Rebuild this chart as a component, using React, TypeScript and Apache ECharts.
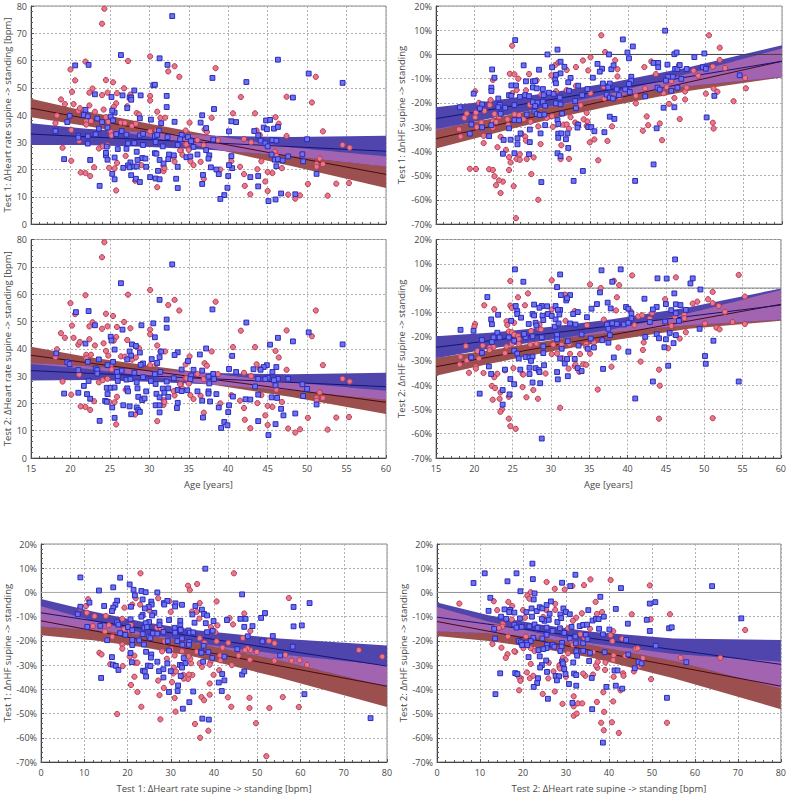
import React, { useEffect, useRef } from "react";
import * as echarts from "echarts";

// Red circles: age vs heart rate change (test 1 and test 2 panels show the same cloud)
const redAgeHr = [[24.3,79],[24,73.5],[30.1,61.5],[20,56.7],[21.9,59.6],[20.6,52.7],[24.5,52.8],[25.4,52],[27.3,59.8],[20.2,48.5],[18.8,45.7],[19.3,44],[20.4,44],[22.4,48.2],[22.8,49.7],[24.7,48.2],[25.9,48],[26.8,49.8],[24,47.3],[27.6,47.5],[30.1,47],[30.1,45.3],[32.4,56],[33.2,57.9],[33.8,54],[38.4,57.2],[41.6,46.6],[51.1,54],[50.6,44.6],[47.4,46.7],[43.4,40.6],[40.6,40.6],[37.9,39],[35.1,37.2],[31,41.2],[31.4,39],[32,39],[46.4,36.8],[46,39.2],[52,34],[47.4,32.3],[54.5,29],[55.4,28],[51.6,24],[52,22],[51.2,22],[51.2,21],[50.1,14.7],[53.7,14.8],[55.3,15],[52.6,10.4],[49.1,10.5],[48.5,9.3],[47.6,10.8],[46.8,20.5],[45.6,18.7],[45,19.1],[44.7,15.6],[45,12.1],[44.2,23],[43.7,20.1],[42.8,10.9],[42.1,14],[42,18.3],[41.5,21],[40.4,23],[39,20],[36.9,16.6],[36.5,22.8],[35.6,21.6],[35.2,23],[35,27.2],[34.6,29.2],[34,27],[34.2,25.4],[33.2,22.9],[33.1,24.5],[31.8,19.4],[31.8,21.2],[31,13.5],[29,21.6],[28.2,15.9],[27,25],[25.8,12.3],[25.9,22.4],[25.6,20.4],[24.9,20.6],[23,20.8],[22.5,17.6],[21.9,18.7],[21.3,18.9],[21.1,30.5],[20.1,23.2],[19,28],[23.6,27.7],[24.1,28.5],[24.7,29],[20.1,34.5],[18.1,37],[18.3,39.8],[21,41.5],[21.2,42.5],[22.4,43.5],[22,37.8],[22,36.5],[22.6,37.8],[23.1,41.2],[24.2,42],[24.5,39.2],[25.8,44.3],[25.5,43],[24.8,37.5],[25.1,33.9],[25.2,32.5],[26.4,37.2],[26.9,37.1],[27.2,43.2],[28.4,40.7],[28.7,40.2],[27.8,36],[28.3,36.8],[30.1,34],[30.9,34.4],[34.6,34.3],[37,34.7],[37.3,33.8],[42,31.2],[36.9,28.9],[38.7,30.7],[36.1,30.8],[34.7,29.2],[33.9,27],[31.9,20.5],[42.9,30],[43.6,34.3],[44,32.7],[45.9,26.5],[46.1,25]];
const blueAgeHr1 = [[32.9,76.3],[26.4,62],[31.3,60.8],[32.3,58.4],[20.6,58.2],[22.3,58.4],[38,53.6],[42.3,52.1],[46.3,60.3],[50.2,55.2],[54.5,51.8],[30.5,50.9],[30.7,51.1],[28.1,49],[23.1,47.6],[25.2,46.6],[26.6,47.2],[27.5,46.4],[27.7,46.4],[27.7,45.6],[28.9,47.2],[32.2,47],[32.2,42.9],[48.2,46.4],[38.2,42.2],[27.2,42.5],[21.9,41.9],[25.6,40.9],[25.3,41.6],[19.9,39.7],[21.7,40],[22.2,39.5],[23.4,38.7],[25.1,39.4],[25.4,38],[24,37.4],[28.8,38.8],[30.2,38.3],[31.5,37],[33.2,37.5],[36.7,39.9],[36.5,37.2],[40.4,37.7],[41,37.4],[44.8,38],[45.3,38.2],[18.1,34.1],[19.6,37.4],[23.6,35],[24.7,35.4],[26.5,34.1],[31.2,34.3],[37.2,35.2],[40.1,34],[44.5,35.4],[44.9,34.8],[45.8,35],[46.3,35.6],[43.3,34.1],[23.2,32.9],[21,32.4],[21,31.7],[22.2,32.2],[25.8,33],[27.1,32.8],[28.8,32.5],[29.2,33.1],[30.7,32.3],[31,32.7],[32.3,31.9],[34.1,32.7],[34.9,31.9],[33.9,31.1],[30.8,30.1],[35.3,30.4],[38.1,31],[43.8,32.5],[44.1,30.6],[45.6,30.8],[46.1,30.6],[50,31.1],[22.2,29.5],[27.3,29.6],[28.1,29.7],[29.2,29],[33.6,29],[35.6,28.3],[24.6,28.4],[44.7,29.6],[45,28.5],[37.2,27.1],[26,27.5],[27.1,27.6],[28.4,26.5],[31.7,28.5],[30.7,26],[30.9,25.8],[32.5,25.5],[33.1,25.2],[34.7,24.5],[35.2,24.8],[36.1,25.5],[37.6,25.2],[37.5,24],[40.4,24.9],[45.5,25.5],[47.6,24.8],[49.4,25.6],[24.5,25.2],[24.5,26.1],[24.7,23.6],[22.5,23.5],[19.2,23.8],[25.6,24.4],[29.1,24.2],[29.5,24],[28.5,23.5],[31.3,23.5],[31.8,22.2],[32.4,23.8],[45.9,23.6],[46.3,23.8],[46.9,23.3],[49.5,23],[27.6,22.6],[27.3,21.5],[27.5,20.8],[28.1,21.1],[28.4,21.1],[26.7,20.6],[29.6,21],[33.6,21],[37.8,20.8],[38.5,20],[38.8,18.3],[40.5,20.5],[40.1,21.6],[46.1,21.2],[31.1,19.5],[25.3,18.4],[27.7,17.9],[36.8,18],[40,17.6],[42.8,17.2],[43.8,17.6],[30.1,17.2],[30.8,16.7],[31.3,16.4],[25.6,16.4],[28.3,16.6],[28.8,15.4],[33.4,16.6],[51.2,18.4],[23.7,14],[36.7,14.7],[43.8,13.8],[33.6,13.2],[39.9,13.3],[39.5,10.6],[39,9.2],[46.7,11.2],[48.5,10.9],[46,9],[45.1,8.4]];
const blueAgeHr2 = [[32.9,70.9],[26.4,64],[31.3,57.9],[20.7,53.4],[22.3,53.8],[38,54.4],[32.2,50.7],[42.3,49.6],[30.5,49.3],[23.1,48.6],[29,48.6],[32.2,47.7],[26.6,47],[25.1,44.4],[25.2,43],[30.7,44.2],[50.2,46],[46.3,44],[54.5,41.6],[48.2,42.7],[45.3,41.5],[21.9,41.9],[27.8,41.6],[28.3,41],[25.6,39.7],[37.2,40.1],[27.5,39],[28.8,38.6],[18.2,38.3],[33.6,38.7],[31.5,39],[33.2,37.7],[36.4,37.9],[40.5,37.4],[31.3,36.9],[30.3,36.2],[27.7,37.5],[23.6,36.1],[27.2,36.1],[25.4,35.2],[22.2,35.2],[19.6,35],[19.9,34.4],[31,34.8],[29.2,34.6],[28.9,34.1],[34.9,35.5],[24.7,34],[44.9,34],[46.1,33.3],[44.5,33.3],[21,32.2],[23.2,32.8],[23.4,32.2],[26.5,32],[34.1,32.4],[35.6,32.3],[36.7,32],[40.1,32.6],[43.2,32.5],[44.1,32.3],[45.6,31.5],[41,31.5],[31.4,31.5],[28.1,31.2],[25.9,31.5],[30.7,30.7],[38.1,30.8],[23.4,30.9],[37.5,29.8],[35.3,30.2],[29.2,29.6],[26,29.8],[33.1,29.2],[45,29.4],[44.7,28.9],[43.8,29],[46.3,29],[47.6,29],[45.8,28.5],[38.2,28.9],[35.2,28.9],[30.2,28.2],[32.2,28],[26,28.2],[27.1,28.7],[27.6,28.9],[28.4,27.7],[22.3,28.2],[37.6,27.3],[30.8,27.1],[49.4,27],[46,26.6],[21.7,26.4],[43.4,26.2],[24.6,25.7],[25.1,25.7],[25.6,25.8],[27.2,25.5],[28.5,25.5],[31.7,25.4],[32.4,25.5],[50,25.3],[27.3,24.4],[29.6,24.4],[33.6,24.9],[34.1,24.5],[34.8,24.8],[36.1,24.4],[37.5,24.4],[37.5,23.6],[21,23.9],[19.2,23.6],[22.1,23.4],[24.7,23.4],[30.9,23.5],[31.9,23.9],[38.5,23.4],[43.8,23.2],[49.5,22.7],[40.6,22.5],[28.6,22.4],[31.3,22.2],[32.4,22.4],[29.1,21.2],[29.4,21.8],[22.5,21.7],[24.4,20.9],[24.6,20.6],[33.6,20.2],[36.7,21],[37.7,20.7],[42.2,21.5],[42.8,21.4],[45.5,22.2],[46.2,22],[26.7,19.3],[27.5,18.9],[30.8,19.3],[31.3,19.3],[40.1,19.3],[51.2,19.6],[25.3,18.5],[28.4,18.5],[28.6,17.5],[28.8,16.9],[33.5,18.3],[38.8,18.5],[46.7,18],[31.3,16.7],[27.7,16],[40,16.8],[48.5,16.3],[47,15.6],[25.6,14.7],[36.8,14.8],[23.7,13.6],[43.8,13.5],[39.5,13.2],[39.9,12],[46,12.4],[39.1,11],[45.1,8.4]];
const redAgeHf1 = [[25.4,-67.6],[28.3,-60],[23.4,-57.2],[22.8,-54],[25.1,-54.4],[23.7,-52.5],[23.2,-52],[22.6,-50.3],[27.4,-49.4],[19.4,-47.2],[20.2,-47.3],[21.9,-47.4],[22.4,-47.7],[24.5,-47.7],[24.7,-44.6],[24.5,-42.4],[24.1,-39.4],[25.5,-43.2],[25.9,-43.5],[25.9,-41.2],[26.8,-43.2],[27.7,-42.5],[31.2,-43.2],[32.3,-43.1],[36.1,-43.7],[23,-38.3],[28.6,-37],[31.3,-37.5],[21.2,-36.6],[21.2,-33.6],[23.4,-34],[18.2,-33.9],[18,-30.9],[18.7,-26.2],[19,-24.4],[20.1,-25.9],[20.3,-30],[20.2,-24],[20.6,-20],[20.1,-15.2],[21.3,-23.3],[20.9,-28.1],[22,-20.9],[22.1,-18.8],[22.4,-27.6],[22.8,-27.9],[22.6,-24.6],[22.4,-30.3],[23.2,-25.7],[24.3,-26.8],[24.4,-29.1],[24.6,-8],[25.2,-8.2],[24.9,3.6],[22.4,-10.5],[25.7,-10],[25.5,-14.7],[24.9,-16],[27.1,-8.1],[28.1,-10.7],[26.7,-14.8],[27.2,-20.8],[28.7,-16.6],[25.8,-25],[25.2,-24.7],[26.6,-33.9],[26.7,-35.6],[26.1,-32.8],[28.3,-29.7],[27.3,-27.8],[26.4,-26.7],[29.4,-26.2],[30.1,-25.5],[30.2,-29.9],[30,-8.6],[30.5,-4.4],[30.9,-3.4],[30.6,-15.2],[32,-6.4],[32,-14.7],[33.2,-5.2],[34.1,-2.5],[34.8,-6.6],[33.2,-13],[35.1,-1.2],[36.5,7.9],[37,1],[38.3,-2.4],[38.6,-6.1],[38.6,-9.1],[35.1,-16],[36.8,-13.3],[36.9,-18.2],[33.8,-21],[32.5,-25.9],[34.2,-26.8],[34.7,-27.7],[34.6,-24.1],[34.6,-29.5],[31.6,-29],[32,-28.9],[32.3,-30.7],[33.1,-28.1],[33.4,-28.7],[35.6,-35.1],[35,-36.3],[37.3,-35.7],[37.9,-29.7],[38.9,-17.7],[41,-20.2],[41,-17.1],[42.1,-5.2],[43,-2.9],[43.6,-8.1],[42.2,-14],[42.4,-25.6],[42.6,-29.2],[41.9,-31.5],[44.1,-28.5],[44.4,-35.4],[44.6,-16],[45,-13.5],[45.3,-20.4],[46,-18],[46.7,-26.7],[47.4,-18.6],[47.4,-15.3],[47.6,-13.7],[48.5,-6.7],[49.1,-8.8],[51,-5],[51.9,-2.3],[52.6,-5.6],[55.2,-9.7],[55.3,-14],[50.5,7.9],[51.9,2.8],[50.1,-16.2],[51.1,-14.1],[51.6,-15.4],[53.7,-19.3],[51,-28.2],[51.1,-30.6],[46.6,-4.4],[45.6,-11]];
const blueAgeHf1 = [[44.8,9.8],[39.3,6.2],[25.3,5.9],[40.6,3.3],[30.8,2],[29.5,0],[37.5,0],[39.9,0.8],[40.1,-1.6],[46,0.1],[46.3,0.8],[49.9,0.4],[48.6,-1.1],[49.7,-5.3],[50.1,-5.9],[22.3,-6.2],[22.6,-9.6],[26.4,-4.5],[28.4,-6.3],[30.1,-5.3],[31.2,-3],[31.7,-5.1],[31.2,-7.8],[30.6,-8.4],[36,-3.9],[36.6,-5.9],[36.3,-7.1],[37.8,-6.1],[38.1,-4.5],[43.3,-3.5],[43.9,-3.5],[43.9,-5.3],[45.1,-4.2],[46.1,-6],[46.4,-6],[46.7,-4.4],[47.6,-6],[40.4,-9.2],[40.4,-10.8],[45.2,-9.2],[45.8,-9.2],[46.9,-10.1],[44.9,-10.8],[46.4,-13.7],[54.5,-8.6],[32.5,-9.7],[30.5,-10.6],[35.4,-9.6],[32.2,-11.5],[30.6,-11.9],[26.7,-11.1],[27.6,-11.1],[27.9,-11],[24.8,-12.8],[25.4,-12.8],[22.2,-13.7],[22.2,-15.1],[19.9,-16.2],[24.5,-16.8],[24.8,-17.1],[25.9,-17.5],[26.6,-16.8],[27.1,-17.2],[27.6,-13.6],[28.1,-14],[28.9,-14.3],[29,-16.8],[29.7,-15.8],[30.3,-16.3],[31.1,-17.8],[32.3,-15],[33.5,-12.9],[34.7,-14.3],[34,-16.8],[36.7,-12],[37.6,-12],[37.4,-13.6],[38.5,-14.4],[39.6,-14.4],[40.1,-12.2],[40.2,-15.5],[37.2,-16.6],[37.6,-17.8],[38,-18.2],[38.8,-16.8],[42.2,-17.3],[43.8,-13.7],[44.1,-14.5],[45.6,-15],[46,-21.8],[44.6,-22],[51.2,-17.1],[50.2,-26],[18.1,-21.8],[23.1,-18.2],[21,-20.6],[20.7,-22.3],[23.3,-20.8],[23.1,-21.8],[24,-22],[23.4,-24.5],[25.2,-20.9],[26.8,-24.8],[27.6,-19.7],[28.2,-19.9],[28.9,-19.5],[27.9,-21.3],[29.2,-21.2],[27.8,-23.6],[28.1,-24.6],[28.5,-25],[29.1,-24.8],[30.6,-20.2],[31.2,-20.6],[33.1,-19.2],[33.2,-22.2],[31.4,-24.4],[37.6,-25.7],[38.2,-26.6],[25.2,-27.1],[25.8,-27.2],[19.6,-28.9],[22.2,-29.2],[21,-30.1],[24.5,-30.5],[29.2,-29.2],[30.8,-27.1],[30.9,-28.7],[33.5,-29],[33.4,-30.2],[34.8,-30],[35.2,-30],[35.6,-31.7],[27.2,-31],[19.4,-32.7],[21.9,-33.7],[26,-32.6],[28.6,-32.6],[30.9,-32.7],[31.3,-32.6],[30.9,-34.4],[32.1,-32.6],[31.9,-35],[36.9,-32.1],[43.7,-30.5],[23.8,-35.3],[24.7,-35.2],[25.6,-34.6],[25.6,-37.1],[27.2,-36.2],[32.2,-38.6],[23.7,-41],[25.2,-40.8],[27.1,-41.2],[30.8,-40.8],[31.2,-42],[43.3,-45.4],[34.1,-48.1],[28.7,-52.7],[32.9,-52.2],[40.9,-52.2]];
const redAgeHf2 = [[54.5,5.4],[40.6,5.2],[46.3,4.4],[24.7,2.9],[30.1,3.2],[35.1,1.5],[38.9,1.2],[36.5,0],[38.2,3],[51.1,-1.6],[27,-2.2],[31.8,-2.7],[25.7,-3.8],[55.3,-3.5],[50.5,-4.6],[44.9,-4.6],[38.6,-3.8],[51.1,-6.2],[49.1,-5.6],[48.5,-6.4],[21.3,-7.1],[22.6,-8.7],[24.7,-7.2],[24.9,-8.2],[26.6,-7.1],[51.9,-7.4],[52.7,-9.8],[30.1,-8.8],[33.1,-9.5],[38.5,-9.2],[40.4,-9.6],[43.2,-10.3],[41.4,-11.7],[41.9,-11.2],[42.9,-12.6],[47.4,-11],[47.4,-12.4],[46.2,-11.7],[45,-14.1],[50.1,-14.6],[53.7,-14],[55.3,-14.8],[51.6,-16.3],[52,-17],[47.6,-18.2],[45.7,-15.6],[40.9,-15.3],[34.7,-15.3],[31.9,-13.5],[24.2,-13.7],[24.3,-15.2],[20.1,-14.8],[20,-15.9],[25.2,-14.3],[28.5,-15],[28.4,-16.5],[28.7,-17],[27.4,-17.7],[24.5,-17.9],[24.9,-18.2],[25.2,-19.2],[25.7,-19.8],[25.8,-21],[25.8,-23],[24.9,-23],[24.2,-24.1],[22.5,-24.2],[22,-24.5],[22,-25.6],[21.1,-23.7],[18.9,-23.9],[18.2,-28.3],[18.1,-31.5],[19,-29.8],[20.6,-29],[20.4,-25.9],[20.2,-32.3],[20.2,-33.2],[19.3,-34.9],[21.2,-35],[23,-35.3],[22.6,-36.7],[24,-26.8],[24,-33.9],[25.1,-33],[26.3,-35.4],[26.4,-35.6],[27.3,-23.3],[28.1,-22.9],[30.3,-23.3],[30.1,-27.2],[30.8,-27],[31.4,-23.3],[32.4,-23],[32.5,-27.1],[31.5,-29],[29.3,-35.2],[32.3,-33.2],[33.1,-32.2],[33.2,-31.5],[33.8,-27.2],[33.7,-34.5],[34.2,-31.4],[34.6,-31.6],[35.1,-27],[34.6,-23],[34.6,-24.3],[35.6,-22.4],[36.9,-13],[38.8,-24.5],[37.9,-32.4],[36.1,-41.8],[41.7,-30.3],[42.1,-22.4],[42,-25.5],[45.3,-24.8],[46.8,-20.8],[44.1,-33.6],[44.2,-40.2],[44.1,-53.8],[51.1,-53.6],[31.2,-49.3],[28.3,-45.6],[26.8,-45],[22.4,-46],[23.3,-45.6],[24.5,-44.8],[23.4,-43],[22.3,-40.3],[22.7,-41.2],[26.3,-40.8],[27.7,-42],[23.6,-50],[23.4,-51],[24.5,-53.8],[24.7,-56.9],[25.4,-58]];
const blueAgeHf2 = [[46.2,11.8],[25.3,7.7],[36.6,7.3],[39.1,7.7],[26.4,2.6],[31.2,5.6],[30.8,0.4],[38,2.6],[43.9,4],[45.1,3.9],[48.5,4],[48.2,1.9],[49.5,-0.6],[36.4,-1.8],[46.1,-2.2],[21.7,-3.7],[31.3,-2.9],[32.5,-2.9],[32,-5.1],[32.1,-4.2],[36,-6.6],[37.4,-6],[42.2,-4.4],[45,-6.6],[46.3,-6.7],[46.9,-7],[47.6,-9],[37.8,-8.4],[39.8,-7.8],[40.1,-8.5],[40.5,-10.5],[40.5,-12.5],[42.9,-14],[43.8,-7.8],[43.3,-8.8],[44.9,-13.8],[45.7,-9.1],[46.3,-10.4],[46.7,-13.5],[27.8,-6.8],[25.4,-7.4],[28.8,-7.4],[29.5,-7.5],[28.5,-8.1],[30.6,-7.4],[25.6,-9.5],[25.6,-10.7],[26.1,-12.2],[23.1,-11],[22.2,-12.9],[22.3,-14.9],[18.2,-17.2],[19.9,-17.6],[27.6,-10.7],[27.8,-11.3],[28.9,-11.4],[29.6,-10.7],[30.1,-11.5],[30.6,-12.9],[31.2,-9],[30.9,-9],[31.1,-10.9],[29,-13.2],[28,-14.3],[28.1,-15.4],[27.1,-14.8],[30.5,-15.9],[31,-14.6],[32.5,-14.6],[33.2,-15],[32.9,-10.7],[33.5,-9.9],[34.7,-12],[35.3,-8.5],[37.3,-15],[37.5,-16.8],[38,-14.5],[38.6,-14.8],[39.5,-15],[40.1,-14.3],[37.7,-19.4],[23,-18.4],[23.3,-20.3],[24.5,-20.3],[24.8,-13.5],[25.2,-21.7],[21,-21.4],[22.3,-22.2],[22.5,-20.3],[26.7,-20.3],[27.6,-19.9],[28.8,-20.3],[26.5,-18.9],[29,-24],[30.8,-19.3],[30.8,-21.1],[32.2,-21.9],[34,-19.1],[35.2,-20.8],[33.6,-23.7],[36.7,-21.5],[37.5,-22.5],[42.3,-20.1],[43.8,-19],[44.1,-20.7],[45.5,-18.5],[46.3,-19.4],[45,-21.1],[46,-22.7],[51.2,-21.7],[44.8,-24.4],[34.8,-25],[35.6,-24.5],[31.4,-25],[25.2,-25.8],[25.6,-27],[29,-26.8],[40.1,-26.2],[21,-26.7],[38.2,-28.6],[19.6,-28.6],[25.8,-29],[26.7,-28.4],[27.2,-28.6],[27.6,-28.2],[27.4,-30],[31.2,-29],[33.1,-29.2],[31.8,-31.1],[32.1,-29.2],[50.1,-28],[50.2,-31.2],[49.4,-16.8],[21.9,-32.3],[29.1,-31.8],[22.2,-35.4],[24,-33.6],[27.2,-32.8],[26,-33.6],[28,-33],[28.4,-33.8],[27.2,-35.4],[28.5,-34.6],[30.8,-34.6],[33.5,-33],[34,-34.2],[36.8,-33.3],[45.3,-32],[32.2,-36.3],[30.9,-37.6],[24.7,-37.5],[25.2,-39.6],[27.6,-38.9],[28.6,-39.2],[23.7,-42],[43.3,-38.5],[54.5,-38.5],[20.7,-43.5],[24.6,-43.8],[41,-45.5],[23.7,-48],[28.8,-62]];
const redHrHf1 = [[23,7.9],[44.6,7.9],[34,2.8],[36.1,3.5],[34.4,1],[27.1,-2.4],[57.3,-2.3],[36.7,-4.4],[40.6,-3.7],[10.9,-2.8],[10.4,-5.6],[12.4,-9.8],[9,-6.6],[10.6,-8.4],[15,-9.7],[19.3,-6.3],[21.1,-5],[22.9,-5],[21.9,-2.4],[25,-7.4],[29.7,-3.6],[30,-8],[34.9,-7.9],[36,-8],[36.6,-10.8],[47,-8.7],[43.6,-10.6],[44.4,-13.2],[40.8,-13.6],[39.3,-14.3],[18.8,-10.9],[15.7,-13.5],[12,-13.9],[14.8,-16.1],[19.2,-15.2],[20.8,-13.4],[20.6,-16],[26.8,-14.6],[27.7,-14.9],[32.3,-15.1],[40.3,-16.4],[15,-19.3],[16.5,-18.3],[18.8,-21.5],[18.8,-23.2],[13.5,-24.9],[14,-25.6],[16,-29.6],[18.9,-30.4],[20.5,-26.5],[21.6,-26.1],[21.9,-29],[20.8,-38.2],[21.6,-34.8],[22.3,-41.1],[23.2,-47.2],[17.6,-50.2],[27.6,-52.4],[31.1,-49.2],[35.6,-54.3],[38.7,-57.1],[36.8,-60],[52.1,-67.6],[49.7,-54],[52.8,-47.7],[48.2,-47.7],[48.2,-43.5],[55.9,-43.2],[59.6,-47.3],[44,-47.2],[43.2,-43.3],[39,-42.2],[37.1,-43.2],[37.7,-44.5],[30.9,-43.6],[27.4,-42.4],[28.4,-39.4],[30.3,-37],[27.1,-36.4],[34,-35.7],[35,-34.1],[34.2,-33.9],[39,-37.6],[39.9,-34],[41.2,-32.1],[44.1,-30],[48.3,-27.8],[45.7,-26.1],[56.5,-25.8],[57.9,-28.2],[59.8,-28],[61.5,-29.9],[73.5,-23.8],[78.9,-26.5],[49.9,-24.6],[48.4,-23.8],[47.7,-23.1],[47.2,-23.8],[46.7,-18.8],[48.4,-15.9],[52.7,-20],[54,-21],[54,-28.2],[43.3,-20.8],[42,-22.8],[40.6,-20.2],[36.7,-18.9],[37.8,-20.8],[41.4,-26],[41.5,-28],[39.2,-28.7],[39,-29.8],[37.2,-30.7],[36.7,-29.2],[34.7,-29.2],[34.5,-27.4],[34.1,-26.3],[36,-24.5],[32.6,-24.3],[30.9,-26],[28,-24.3],[29.1,-27.4],[28.6,-20.2],[30.1,-23.3],[30.7,-31],[30.6,-33.4],[31.2,-32.6],[32.9,-34],[33,-35.6],[22.3,-29]];
const blueHrHf1 = [[9.1,6.2],[18.3,6.1],[16.7,2.1],[20.5,3.3],[13.4,0.8],[21.4,1.1],[23.2,0.6],[24.2,0.1],[26.9,0],[38,9.8],[21.7,-1.2],[46.5,-0.8],[23.5,-2.9],[17.6,-3.4],[11.2,-4.2],[17.2,-5.1],[9.1,-5.9],[14.6,-5.6],[16.7,-6.3],[20.8,-5.9],[25.5,-3.8],[25.6,-5],[24.9,-6],[24,-6.6],[26.2,-8.4],[28.4,-4.4],[29.2,-3.5],[31.1,-4.5],[31,-5.8],[32.6,-5.1],[35.7,-5.6],[28.5,-5],[37.2,-7.1],[58.4,-6],[62.1,-4.4],[16.4,-7.7],[8.5,-9],[23.5,-9.3],[23.2,-10],[25.7,-9.5],[35,-9.1],[37.7,-8.9],[38.4,-9.5],[51.8,-8.5],[50.9,-10.5],[47.3,-10.9],[46.1,-10.9],[43,-11.4],[39.9,-11.8],[32.2,-11.7],[20.7,-11.1],[17.6,-12.3],[27.4,-12],[29.6,-11.4],[25,-12.2],[24.2,-12.7],[17.9,-13.3],[13.7,-13.8],[10.7,-14.2],[20.1,-14.3],[23.9,-14.6],[24.5,-14.3],[27.4,-13.5],[30.9,-14.6],[32.2,-13.6],[35.5,-12.5],[38.1,-12.7],[47,-14.2],[48.9,-13.9],[58.4,-14],[60.3,-13.6],[21.1,-15.6],[23.5,-17.2],[24.9,-18.3],[25.9,-16.9],[26.9,-17],[32.1,-15.2],[31,-16.6],[32.3,-15.5],[34.1,-15.7],[34.4,-16.6],[35.2,-16.5],[38.4,-16.4],[39.7,-15.8],[18.3,-16.8],[19.5,-17.5],[28.3,-16.3],[25.3,-18.9],[47.8,-18.1],[53.6,-18],[21.1,-19.6],[15.3,-19.7],[51.2,-20.2],[32.6,-19],[21.1,-21.7],[23.8,-21.5],[22.7,-19.8],[29.3,-20.1],[31.5,-20.1],[32.7,-21.6],[34.3,-20.4],[34.2,-21.6],[37.6,-22],[45.4,-23.4],[58.2,-22.4],[29.6,-24],[24.3,-24.5],[37,-24.4],[38.7,-24.6],[20.7,-25],[16.4,-26.7],[25.5,-25.6],[25.4,-26.9],[33,-27.1],[37.1,-24.9],[39.6,-27],[42.4,-26.5],[55.3,-26],[26.9,-28.6],[21,-28.8],[16.6,-29.8],[17.3,-30.3],[17.9,-32],[24.7,-30.2],[25.3,-30.4],[29.2,-29.3],[32.1,-29.9],[32.6,-30.1],[33.4,-29.2],[37.5,-28.6],[13.9,-35.3],[23.6,-32.3],[24,-32.6],[27.3,-32.5],[28.3,-31.7],[30,-32.5],[32.6,-31],[24.3,-34.7],[28.3,-35.1],[32.3,-34.5],[41.9,-33.7],[46.5,-33.9],[47,-32.6],[41.1,-37.2],[42.4,-36.3],[31.7,-38.4],[31.6,-40.7],[29.6,-41.1],[35.2,-40.9],[41.8,-40.7],[60.9,-42],[32.8,-48],[34.3,-45.3],[37.3,-52.1],[38.8,-52.5],[76.2,-51.9]];
const redHrHf2 = [[5.2,-4.6],[25.5,4.3],[35.7,5.4],[40.4,5.1],[34.2,3],[29.7,1.2],[27.4,1.5],[31.5,2.7],[49.5,2.9],[21.8,0.1],[21,-1.3],[21.5,-2.6],[13.2,-3.6],[16.6,-3.9],[27.5,-4.7],[36.9,-3.9],[14,-7.3],[17.5,-5.6],[20,-7.3],[27.5,-7.2],[25.4,-7.2],[20.5,-10.4],[17.4,-11.2],[24.7,-10.1],[37.2,-8.9],[38.4,-8.1],[33.7,-8.6],[32.4,-10.4],[31.6,-11.7],[45.3,-9],[49.7,-11.1],[54.2,-9],[71.7,-15.5],[40.4,-17.6],[41,-16],[40.8,-20.1],[43.1,-19.1],[15.3,-12.9],[15.2,-14.1],[13.7,-14.4],[14.4,-14.6],[16.5,-18.2],[12.9,-21.3],[15,-22.8],[16.4,-25.5],[16,-27],[18.2,-24.5],[18,-24.3],[20.7,-18.2],[20.1,-23],[21.8,-23],[22.7,-24.2],[21.8,-29.5],[20.9,-33],[21.6,-35.4],[22.4,-34.4],[19.5,-35.5],[19.1,-35],[19.4,-36.5],[19.1,-40.4],[24.6,-41.9],[27.4,-40.9],[25.9,-35.5],[27.1,-32.6],[26,-29],[28.5,-30.8],[28.5,-30],[29.3,-27],[29.9,-27.9],[28.6,-31.4],[30,-34.8],[29.2,-46],[31.8,-42.9],[31.8,-47],[32.8,-45.8],[33.8,-45.8],[37.2,-45.2],[41,-45],[31.8,-50.9],[32.5,-50],[38.9,-49.3],[38.2,-53.8],[38.8,-56.9],[40.7,-53.6],[42.3,-58],[53.5,-53.8],[38.7,-41.2],[42.7,-40.4],[41.1,-34.8],[43.3,-33.4],[43.4,-34.4],[39.1,-32],[37.3,-31.1],[37,-30.1],[37.4,-28.6],[39.2,-28.9],[41.1,-26],[41,-27.9],[43.8,-26.2],[46.2,-23.3],[46.7,-23.1],[47.9,-27.1],[45.8,-32.6],[47.1,-30.3],[49.8,-35.8],[56.7,-27],[65.9,-27],[36.3,-33.9],[34.5,-34.4],[34,-33.5],[35.3,-25.1],[36.3,-24.6],[33.3,-17.3],[35.6,-15],[34.3,-18.8],[31.2,-20],[30.5,-25.1],[28.4,-23.5],[31.6,-21.7],[30.5,-14.8],[25.4,-18]];
const blueHrHf2 = [[22.2,11.9],[11.1,7.9],[18.5,7.9],[8.5,3.9],[16.4,4.6],[22.3,5.5],[32.2,7.3],[29.1,4],[31,2.6],[42.8,1.8],[64,2.6],[19.4,0.5],[22.7,-0.4],[12.4,-2.2],[22.5,-2.9],[38,-1.8],[70.8,-10.7],[12,-7.6],[15.7,-7],[17,-7.2],[16.8,-8.1],[18,-8.3],[20.8,-8.1],[22,-6.6],[23.2,-7.7],[23.9,-6.1],[24.5,-6.6],[25.5,-5.2],[26.5,-3.7],[29.4,-6.6],[30,-8.1],[30.9,-9],[35.2,-7.3],[41.6,-6.8],[49.5,-4.6],[50.8,-4],[38.8,-10],[36.2,-11.6],[37,-10.9],[37.6,-11],[28.7,-9.1],[26.2,-8.8],[22.1,-10],[19.3,-10.7],[14.9,-10],[16.1,-10.9],[25,-11.7],[24.4,-11],[26,-11.3],[28,-12.2],[28.9,-10.6],[48.8,-11.3],[44.4,-12.9],[18,-13.3],[18.5,-14.5],[19.7,-14.2],[21.5,-14],[22.7,-13.2],[23.4,-14.6],[25.5,-14.5],[28.6,-14.8],[31.3,-14.2],[33.2,-13.9],[34,-13.4],[34.9,-13.3],[49.5,-15.9],[54,-14.8],[54.6,-14.4],[37.7,-15],[40.1,-15.3],[13.3,-15],[13.5,-19],[26.9,-15.9],[29.6,-16.7],[25.5,-17.5],[38.6,-17.3],[22.4,-18.7],[24.5,-19],[30.9,-19],[32.2,-18.2],[34.6,-17.5],[19,-20],[19.5,-20.6],[20.9,-20.7],[21.8,-20.1],[19.8,-21.7],[21,-21.7],[25.6,-21.7],[26.9,-21.6],[29.1,-20.8],[29,-22.3],[32.3,-21],[34,-21],[35,-19.3],[27.3,-22.4],[25.5,-23],[24.7,-23.4],[44,-19.6],[50.9,-22],[58,-28.8],[23.6,-23.8],[32.4,-24.3],[34,-24.1],[35.6,-24.9],[39,-24.7],[44.5,-25.6],[28.7,-24.2],[23.9,-26.4],[25.4,-28.1],[21.3,-26.7],[29.1,-28.5],[29.3,-29.3],[35.4,-28.3],[31.7,-28.9],[32.6,-26.1],[46.9,-28.7],[47.6,-29.3],[24.4,-30],[24,-31],[29.6,-31.6],[46,-31.3],[41.3,-32.2],[42,-32.2],[25.6,-32.8],[14.7,-33.4],[18.2,-33.3],[18.7,-33.7],[31.9,-33.5],[29.9,-33.7],[32.4,-34.1],[27.6,-34.5],[28.4,-34.6],[23.5,-35.4],[36,-35.3],[27.9,-36.3],[23.3,-37.4],[30.7,-37.8],[22.5,-39],[32.4,-38.5],[39.4,-39],[41.6,-38.5],[43.1,-39.7],[13.6,-42],[25.8,-43.9],[31.5,-45.6],[36.1,-48.2],[53.5,-43.5],[38.6,-62]];

// Band sample positions on the x axes
const ageKnots = [15, 22, 30, 38, 48, 60];
const hrKnots = [0, 12, 24, 36, 55, 80];

// Confidence bands: [upper values, lower values]
const redBand1 = [[46, 41.4, 36.8, 32.5, 28.1, 24.8], [39.2, 36, 32, 27.7, 21.3, 13.2]];
const blueBand1 = [[37, 35, 33.5, 32.4, 31.9, 32.4], [29, 29, 28.3, 27.2, 24.9, 21.1]];
const redBand2 = [[-30.8, -26.6, -21.5, -15.9, -7.8, 2.5], [-38.8, -33, -26.7, -21.1, -15, -9.5]];
const blueBand2 = [[-21.8, -19.2, -15.7, -11.5, -5.2, 3.8], [-31.2, -26.4, -21.5, -17.3, -13, -9.3]];
const redBand3 = [[40.7, 37.1, 33.8, 30.8, 27.7, 24.6], [34.4, 32.7, 30, 26.8, 22.3, 16.1]];
const blueBand3 = [[34.8, 33.6, 32.1, 31.1, 30.7, 31.2], [28.4, 28.6, 27.9, 26.9, 24.7, 21.3]];
const redBand4 = [[-28.7, -25.6, -21.5, -17, -10.4, -0.8], [-36.1, -31.2, -26.1, -21.6, -16.8, -13.5]];
const blueBand4 = [[-19.9, -18.4, -15.9, -12.8, -7.9, -0.2], [-28.9, -25, -21.3, -18.2, -15.3, -13]];
const redBand5 = [[-5.7, -11.7, -16.9, -21, -25.5, -30.1], [-17.7, -19.7, -22.7, -26.8, -35.1, -47.3]];
const blueBand5 = [[-2.7, -7.9, -12.3, -15.6, -19, -21.9], [-14.1, -15.5, -17.7, -21, -28, -38.9]];
const redBand6 = [[-6, -12, -17, -21, -25.4, -28.6], [-18, -20, -23, -27, -35.4, -48.2]];
const blueBand6 = [[-4.2, -9.4, -13.2, -16.2, -19, -19.6], [-16.1, -16.8, -18.8, -21.8, -28.2, -39.7]];

// Regression line end values: [value at left edge, value at right edge]
const redLines = [[42.5, 18.2], [-34.8, -2.8], [37.6, 20.4], [-32.4, -6.7], [-11.7, -38.7], [-12, -38.7]];
const blueLines = [[33, 26.7], [-26.5, -2.8], [32, 26.1], [-24.4, -7], [-8.4, -30.4], [-10.2, -29.7]];

const AGE_TITLE = "Age [years]";
const HR1_Y = "Test 1: ΔHeart rate supine -> standing [bpm]";
const HR2_Y = "Test 2: ΔHeart rate supine -> standing [bpm]";
const HF1_Y = "Test 1: ΔnHF supine -> standing";
const HF2_Y = "Test 2: ΔnHF supine -> standing";

const FONT = "'Open Sans', 'Noto Sans', sans-serif";
const TEXT = "#484848";

type Panel = {
  box: [number, number, number, number];
  red: number[][]; blue: number[][];
  redBand: number[][]; blueBand: number[][];
  xKind: "age" | "hr"; yKind: "hr" | "hf";
  yName: string; xName?: string; xLabels: boolean; zero?: string; nameGap: number; line: number;
};

const panels: Panel[] = [
  { box: [31, 6, 386, 224], red: redAgeHr, blue: blueAgeHr1, redBand: redBand1, blueBand: blueBand1, xKind: "age", yKind: "hr", yName: HR1_Y, xLabels: false, nameGap: 19, line: 0 },
  { box: [436, 6, 782, 224], red: redAgeHf1, blue: blueAgeHf1, redBand: redBand2, blueBand: blueBand2, xKind: "age", yKind: "hf", yName: HF1_Y, xLabels: false, zero: "#404040", nameGap: 30, line: 1 },
  { box: [31, 239.5, 386, 458], red: redAgeHr, blue: blueAgeHr2, redBand: redBand3, blueBand: blueBand3, xKind: "age", yKind: "hr", yName: HR2_Y, xName: AGE_TITLE, xLabels: true, nameGap: 19, line: 2 },
  { box: [436, 239.5, 782, 458], red: redAgeHf2, blue: blueAgeHf2, redBand: redBand4, blueBand: blueBand4, xKind: "age", yKind: "hf", yName: HF2_Y, xName: AGE_TITLE, xLabels: true, zero: "#808080", nameGap: 30, line: 3 },
  { box: [41, 544, 387, 762], red: redHrHf1, blue: blueHrHf1, redBand: redBand5, blueBand: blueBand5, xKind: "hr", yKind: "hf", yName: HF1_Y, xName: "Test 1: ΔHeart rate supine -> standing [bpm]", xLabels: true, zero: "#a8a8a8", nameGap: 29, line: 4 },
  { box: [437, 544, 782, 762], red: redHrHf2, blue: blueHrHf2, redBand: redBand6, blueBand: blueBand6, xKind: "hr", yKind: "hf", yName: HF2_Y, xName: "Test 2: ΔHeart rate supine -> standing [bpm]", xLabels: true, zero: "#909090", nameGap: 29, line: 5 },
];

function interp(xs: number[], ys: number[], x: number) {
  for (let i = 1; i < xs.length; i++) {
    if (x <= xs[i]) {
      const t = (x - xs[i - 1]) / (xs[i] - xs[i - 1]);
      return ys[i - 1] + t * (ys[i] - ys[i - 1]);
    }
  }
  return ys[ys.length - 1];
}

function bandSeries(rows: number[][], fill: string, i: number, z: number) {
  return {
    type: "custom",
    xAxisIndex: i,
    yAxisIndex: i,
    z,
    silent: true,
    clip: true,
    data: rows,
    encode: { x: 0, y: [1, 2] },
    renderItem: (params: any, api: any) => {
      if (params.dataIndex !== 0) return null;
      const top = rows.map((r) => api.coord([r[0], r[2]]));
      const bottom = rows.map((r) => api.coord([r[0], r[1]])).reverse();
      return { type: "polygon", shape: { points: top.concat(bottom) }, style: { fill, stroke: null } };
    },
  };
}

function buildOption() {
  const grid: any[] = [], xAxis: any[] = [], yAxis: any[] = [], series: any[] = [];
  panels.forEach((p, i) => {
    const [l, t, r, b] = p.box;
    grid.push({ left: l, top: t, width: r - l, height: b - t, show: true, borderColor: "#8c8c8c", borderWidth: 1, backgroundColor: "#fff" });
    const knots = p.xKind === "age" ? ageKnots : hrKnots;
    const [xMin, xMax, xInt] = p.xKind === "age" ? [15, 60, 5] : [0, 80, 10];
    const [yMin, yMax, yInt] = p.yKind === "hr" ? [0, 80, 10] : [-70, 20, 10];
    const common = {
      axisLine: { show: true, onZero: false, lineStyle: { color: "#404040", width: 1 } },
      axisTick: { show: true, length: 3, inside: true, lineStyle: { color: "#505050" } },
      minorTick: { show: true, splitNumber: 5, length: 2, lineStyle: { color: "#606060" } },
      splitLine: { show: true, lineStyle: { color: "#b0b0b0", type: [2, 2], width: 1 } },
    };
    xAxis.push({
      ...common, type: "value", gridIndex: i, min: xMin, max: xMax, interval: xInt,
      name: p.xName, nameLocation: "middle", nameGap: 21,
      nameTextStyle: { fontFamily: FONT, fontSize: 9.5, color: TEXT },
      axisLabel: { show: p.xLabels, fontFamily: FONT, fontSize: 9, color: TEXT, margin: 6 },
    });
    yAxis.push({
      ...common, type: "value", gridIndex: i, min: yMin, max: yMax, interval: yInt,
      name: p.yName, nameLocation: "middle", nameGap: p.nameGap,
      nameTextStyle: { fontFamily: FONT, fontSize: 9.5, color: TEXT },
      axisLabel: { fontFamily: FONT, fontSize: 9, color: TEXT, margin: 4, formatter: p.yKind === "hf" ? "{value}%" : "{value}" },
    });

    const redRows = knots.map((x, k) => [x, p.redBand[1][k], p.redBand[0][k]]);
    const blueRows = knots.map((x, k) => [x, p.blueBand[1][k], p.blueBand[0][k]]);
    const overlap: number[][] = [];
    for (let s = 0; s <= 120; s++) {
      const x = xMin + ((xMax - xMin) * s) / 120;
      const lo = Math.max(interp(knots, p.redBand[1], x), interp(knots, p.blueBand[1], x));
      const hi = Math.min(interp(knots, p.redBand[0], x), interp(knots, p.blueBand[0], x));
      overlap.push(hi > lo ? [x, lo, hi] : [x, lo, lo]);
    }
    series.push(bandSeries(redRows, "#9c4f4f", i, 2));
    series.push(bandSeries(blueRows, "#4f45ad", i, 2));
    series.push(bandSeries(overlap, "#a263b0", i, 2));
    const lineSeries = (data: number[][], color: string) => ({
      type: "line", xAxisIndex: i, yAxisIndex: i, z: 3, silent: true, symbol: "none", data,
      lineStyle: { color, width: 1 },
    });
    if (p.zero) series.push(lineSeries([[xMin, 0], [xMax, 0]], p.zero));
    series.push(lineSeries([[xMin, redLines[p.line][0]], [xMax, redLines[p.line][1]]], "#4a0a14"));
    series.push(lineSeries([[xMin, blueLines[p.line][0]], [xMax, blueLines[p.line][1]]], "#14147a"));
    series.push({
      type: "scatter", xAxisIndex: i, yAxisIndex: i, z: 4, silent: true, symbol: "circle", symbolSize: 5.2, data: p.red,
      itemStyle: { color: "#e5788f", borderColor: "#b83a50", borderWidth: 1, opacity: 1 },
    });
    series.push({
      type: "scatter", xAxisIndex: i, yAxisIndex: i, z: 5, silent: true, symbol: "rect", symbolSize: 4.8, data: p.blue,
      itemStyle: { color: "#6f72ee", borderColor: "#2a2ab8", borderWidth: 1, opacity: 1 },
    });
  });
  return { animation: false, backgroundColor: "#fff", grid, xAxis, yAxis, series };
}

export default function App() {
  const ref = useRef<HTMLDivElement>(null);
  useEffect(() => {
    document.body.style.margin = "0";
    const chart = echarts.init(ref.current!, undefined, { renderer: "svg" });
    chart.setOption(buildOption() as any);
    return () => chart.dispose();
  }, []);
  return <div ref={ref} style={{ width: 789, height: 795 }} />;
}
